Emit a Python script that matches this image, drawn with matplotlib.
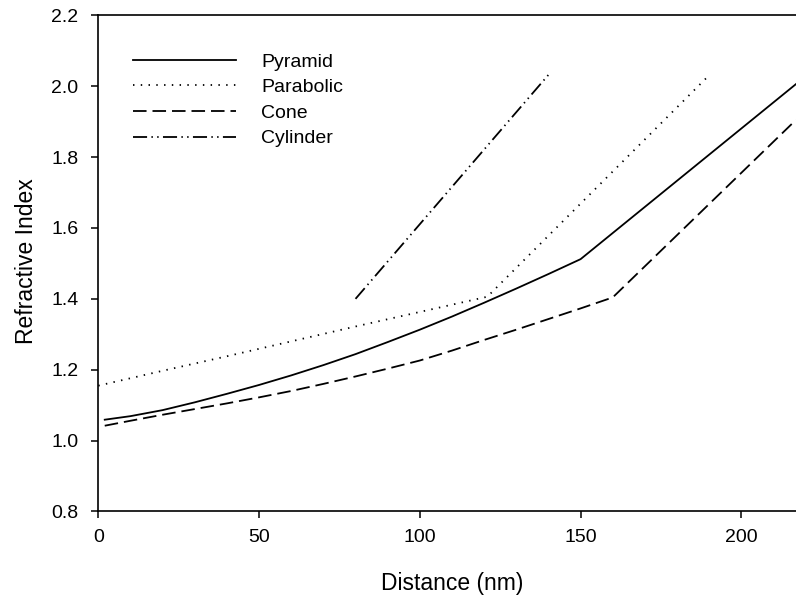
import matplotlib
matplotlib.use("Agg")
import matplotlib.pyplot as plt

plt.rcParams['font.family'] = ['Liberation Sans', 'DejaVu Sans']

# values
pyramid_x = [2, 10, 20, 30, 40, 50, 60, 70, 80, 90, 100, 110, 120, 130, 140, 150, 217]
pyramid_y = [1.059, 1.069, 1.086, 1.108, 1.132, 1.157, 1.184, 1.213, 1.244, 1.278,
             1.313, 1.350, 1.389, 1.429, 1.470, 1.512, 2.006]

parabolic_x = [0, 20, 40, 60, 80, 100, 121, 189]
parabolic_y = [1.155, 1.197, 1.238, 1.280, 1.322, 1.363, 1.406, 2.022]

cone_x = [2, 10, 20, 30, 40, 50, 60, 70, 80, 90, 100, 110, 120, 130, 140, 150, 160, 217]
cone_y = [1.042, 1.056, 1.073, 1.089, 1.105, 1.122, 1.140, 1.160, 1.181, 1.203,
          1.226, 1.254, 1.284, 1.313, 1.343, 1.373, 1.404, 1.905]

cylinder_x = [80, 140]
cylinder_y = [1.40, 2.032]

xticks = [0, 50, 100, 150, 200]
yticks = [0.8, 1.0, 1.2, 1.4, 1.6, 1.8, 2.0, 2.2]

fig = plt.figure(figsize=(7.96, 5.96), dpi=100)
ax = fig.add_axes([0.1235, 0.1418, 0.8765, 0.8325])

lw = 1.3
ax.plot(pyramid_x, pyramid_y, color='black', lw=lw, linestyle='-', label='Pyramid')
ax.plot(parabolic_x, parabolic_y, color='black', lw=lw, linestyle=(0, (0.8, 3.5)), label='Parabolic')
ax.plot(cone_x, cone_y, color='black', lw=lw, linestyle=(0, (7.5, 3.3)), label='Cone')
ax.plot(cylinder_x, cylinder_y, color='black', lw=lw,
        linestyle=(0, (7.8, 2.4, 0.8, 2.4, 0.8, 2.4)), label='Cylinder')

ax.set_xlim(0, 217)
ax.set_ylim(0.8, 2.2)
ax.set_xticks(xticks)
ax.set_yticks(yticks)
ax.set_yticklabels([f"{v:.1f}" for v in yticks])

ax.spines['right'].set_visible(False)
for s in ['left', 'top', 'bottom']:
    ax.spines[s].set_linewidth(1.2)
ax.tick_params(direction='out', length=4.8, width=1.1, labelsize=14)
ax.tick_params(axis='x', pad=8)
ax.tick_params(axis='y', pad=9.5)

ax.set_xlabel('Distance (nm)', fontsize=16.5)
ax.set_ylabel('Refractive Index', fontsize=16.5)
ax.xaxis.set_label_coords(0.507, -0.121)
ax.yaxis.set_label_coords(-0.087, 0.505)

ax.legend(loc='upper left', bbox_to_anchor=(0.0497, 0.924), frameon=False,
          fontsize=14, handlelength=5.3, handletextpad=1.3, labelspacing=0.41,
          borderpad=0, borderaxespad=0)

fig.savefig('out.png', dpi=100)
